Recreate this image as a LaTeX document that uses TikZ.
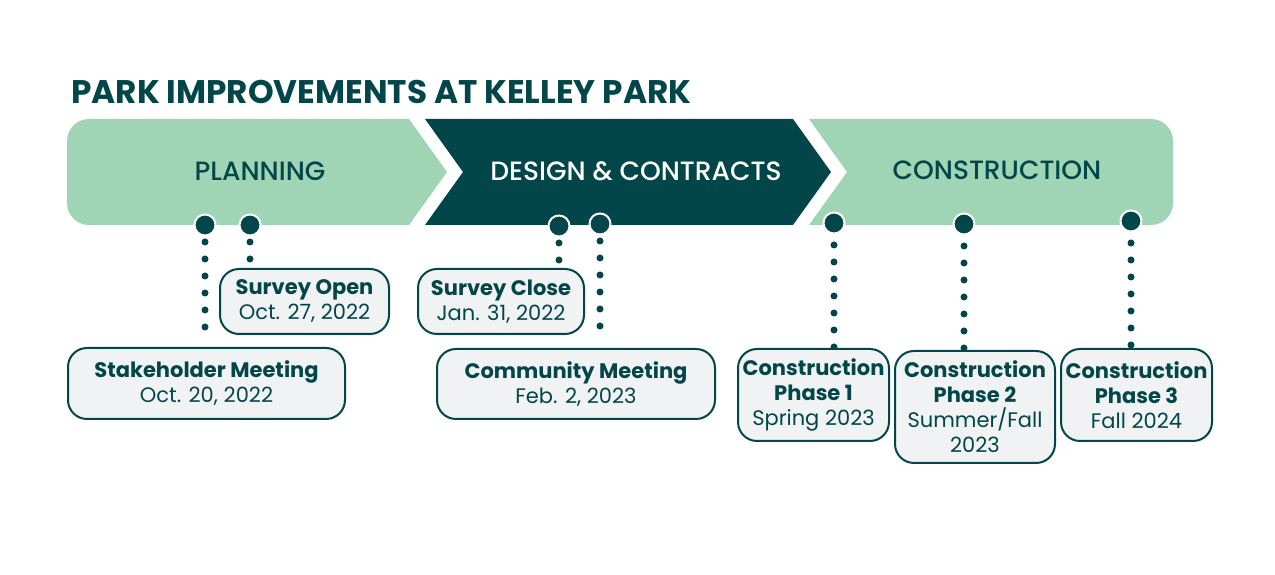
\documentclass[tikz,border=0pt]{standalone}
\usepackage{fontspec}
\setmainfont{Poppins}
\newfontfamily\pmed{Poppins Medium}
\usetikzlibrary{backgrounds}
\definecolor{darkt}{HTML}{02464A}
\definecolor{lightg}{HTML}{9FD5B4}
\definecolor{boxf}{HTML}{F0F2F4}
\tikzset{
  box/.style={draw=darkt, line width=2pt, fill=boxf, rounded corners=19pt, inner sep=0pt,
    align=center, text=darkt, font=\fontsize{21}{25}\selectfont},
  dot/.style={circle, fill=darkt, draw=white, line width=2pt, minimum size=21pt, inner sep=0pt},
  dotline/.style={draw=darkt, line width=7pt, line cap=round, dash pattern=on 0pt off 17pt},
  phase/.style={font=\pmed\fontsize{26.5}{26.5}\selectfont, inner sep=0pt}
}
\begin{document}
\begin{tikzpicture}[x=1pt,y=1pt]
\useasboundingbox (0,0) rectangle (1275,575);
\begin{scope}[on background layer]
\fill[white] (0,0) rectangle (1275,575);
% bar
\fill[lightg] (409,456) -- (447,403) -- (409,350) -- (89,350)
  arc[start angle=270, end angle=180, radius=22] -- (67,434)
  arc[start angle=180, end angle=90, radius=22] -- cycle;
\fill[darkt] (425,456) -- (793,456) -- (831,403) -- (793,350) -- (425,350) -- (463,403) -- cycle;
\fill[lightg] (809,456) -- (1151,456)
  arc[start angle=90, end angle=0, radius=22] -- (1173,372)
  arc[start angle=0, end angle=-90, radius=22] -- (809,350) -- (847,403) -- cycle;
\end{scope}
% title
\node[anchor=west, inner sep=0pt, text=darkt, font=\bfseries\fontsize{32.7}{33}\selectfont] (title) at (71,483) {PARK IMPROVEMENTS AT KELLEY PARK};
\node[phase, text=darkt] (p1) at (260,404) {PLANNING};
\node[phase, text=white] (p2) at (636,404) {DESIGN \& CONTRACTS};
\node[phase, text=darkt] (p3) at (997,405) {CONSTRUCTION};
% boxes
\node[box, minimum width=277pt, minimum height=71pt] (sm) at (206.5,191.5) {\textbf{Stakeholder Meeting}\\Oct. 20, 2022};
\node[box, minimum width=169pt, minimum height=65pt] (so) at (304.5,273.5) {\textbf{Survey Open}\\Oct. 27, 2022};
\node[box, minimum width=166pt, minimum height=65pt] (sc) at (501,273.5) {\textbf{Survey Close}\\Jan. 31, 2022};
\node[box, minimum width=278pt, minimum height=70pt] (cm) at (576,191) {\textbf{Community Meeting}\\Feb. 2, 2023};
\node[box, minimum width=151pt, minimum height=92pt] (c1b) at (813.5,180) {\textbf{Construction}\\\textbf{Phase 1}\\Spring 2023};
\node[box, minimum width=160pt, minimum height=112pt] (c2b) at (975,168) {\textbf{Construction}\\\textbf{Phase 2}\\Summer/Fall\\2023};
\node[box, minimum width=151pt, minimum height=92pt] (c3b) at (1136.5,180) {\textbf{Construction}\\\textbf{Phase 3}\\Fall 2024};
% dots
\node[dot] (a1) at (205,350) {};
\node[dot] (a2) at (250,350) {};
\node[dot] (b1) at (559,349) {};
\node[dot] (b2) at (600,351) {};
\node[dot] (c1) at (834,352) {};
\node[dot] (c2) at (964,351) {};
\node[dot] (c3) at (1131,354) {};
% dotted connectors
\begin{scope}[on background layer]
\draw[dotline, shorten <=17pt, shorten >=12pt] (a1.center) -- (a1.center |- sm.north);
\draw[dotline, shorten <=17pt, shorten >=6pt] (a2.center) -- (a2.center |- so.north);
\draw[dotline, shorten <=17pt, shorten >=6pt] (b1.center) -- (b1.center |- sc.north);
\draw[dotline, shorten <=17pt, shorten >=12pt] (b2.center) -- (b2.center |- cm.north);
\draw[dotline, shorten <=22pt, shorten >=0pt] (c1.center) -- (c1.center |- c1b.north);
\draw[dotline, shorten <=22pt, shorten >=0pt] (c2.center) -- (c2.center |- c2b.north);
\draw[dotline, shorten <=22pt, shorten >=0pt] (c3.center) -- (c3.center |- c3b.north);
\end{scope}
\end{tikzpicture}
\end{document}
